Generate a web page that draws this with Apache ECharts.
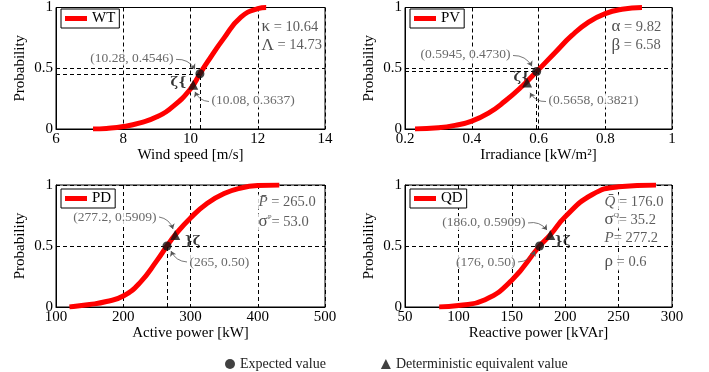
<!DOCTYPE html>
<html>
<head>
<meta charset="utf-8">
<script src="https://cdn.jsdelivr.net/npm/echarts@6/dist/echarts.min.js"></script>
<style>
  html, body { margin: 0; background: #fff; }
  #chart { width: 709px; height: 372px; }
</style>
</head>
<body>
<div id="chart"></div>
<script>
// panels: WT, PV, PD, QD
const panelNames = ['WT', 'PV', 'PD', 'QD'];
const xNames = ['Wind speed [m/s]', 'Irradiance [kW/m\u00b2]', 'Active power [kW]', 'Reactive power [kVAr]'];
const xMin = [6, 0.2, 100, 50];
const xMax = [14, 1, 500, 300];
const xStep = [2, 0.2, 100, 50];

// CDF curves
const wtX = [7.1, 7.5, 8.0, 8.5, 9.0, 9.5, 10.0, 10.28, 10.5, 11.0, 11.5, 12.0, 12.25];
const wtY = [0, 0.005, 0.02, 0.05, 0.10, 0.19, 0.33, 0.4546, 0.55, 0.75, 0.92, 0.99, 1.0];
const pvX = [0.23, 0.3, 0.35, 0.4, 0.45, 0.5, 0.55, 0.5945, 0.65, 0.7, 0.75, 0.8, 0.85, 0.91];
const pvY = [0, 0.01, 0.03, 0.065, 0.13, 0.23, 0.35, 0.473, 0.63, 0.77, 0.88, 0.95, 0.985, 1.0];
const pdX = [120, 150, 175, 200, 225, 250, 265, 277.2, 300, 325, 350, 375, 400, 432];
const pdY = [0, 0.02, 0.045, 0.09, 0.2, 0.38, 0.5, 0.5909, 0.73, 0.85, 0.93, 0.975, 0.995, 1.0];
const qdX = [82, 100, 125, 150, 176, 186, 200, 225, 250, 285];
const qdY = [0, 0.012, 0.06, 0.22, 0.5, 0.5909, 0.74, 0.92, 0.985, 1.0];

// marked points
const expectedX = [10.28, 0.5945, 265, 176];
const expectedY = [0.4546, 0.4730, 0.50, 0.50];
const determX = [10.08, 0.5658, 277.2, 186.0];
const determY = [0.3637, 0.3821, 0.5909, 0.5909];
const expectedLabels = ['(10.28, 0.4546)', '(0.5945, 0.4730)', '(265, 0.50)', '(176, 0.50)'];
const determLabels = ['(10.08, 0.3637)', '(0.5658, 0.3821)', '(277.2, 0.5909)', '(186.0, 0.5909)'];

const curves = [[wtX, wtY], [pvX, pvY], [pdX, pdY], [qdX, qdY]];
const serif = 'Liberation Serif';

const boxes = [
  { left: 56, top: 5, width: 269, height: 124 },
  { left: 405, top: 5, width: 267, height: 124 },
  { left: 56, top: 185, width: 269, height: 122 },
  { left: 405, top: 185, width: 267, height: 122 }
];

// annotation anchors (data coords of each panel)
const expLabelAt = [[9.54, 0.58, 'right'], [0.5206, 0.613, 'right'], [296.3, 0.369, 'left'], [154.9, 0.369, 'right']];
const detLabelAt = [[10.58, 0.234, 'left'], [0.6255, 0.234, 'left'], [251.7, 0.738, 'right'], [164.2, 0.689, 'right']];
const zetaAt = [[9.93, 0.379, 'right', '\u03b6{'], [0.5775, 0.419, 'right', '\u03b6{'], [288.8, 0.533, 'left', '}\u03b6'], [188.6, 0.533, 'left', '}\u03b6']];
const expArrow = [[[9.569, 0.573], [10.134, 0.492]], [[0.5236, 0.605], [0.5805, 0.516]], [[294.8, 0.369], [271.0, 0.459]], [[155.8, 0.369], [171.7, 0.459]]];
const detArrow = [[[10.55, 0.226], [10.134, 0.306]], [[0.6225, 0.226], [0.5745, 0.298]], [[253.2, 0.738], [274.0, 0.639]], [[165.2, 0.689], [183.0, 0.631]]];
const expBend = [0.3, 0.3, 0.3, -0.3];
const paramText = [
  [[12.07, 0.84, '{g|\u03ba}{n| = 10.64}'], [12.07, 0.69, '{g|\u039b}{n| = 14.73}']],
  [[0.814, 0.84, '{g|\u03b1}{n| = 9.82}'], [0.814, 0.69, '{g|\u03b2}{n| = 6.58}']],
  [[398.9, 0.861, '{i|P\u0304}{n| = 265.0}'], [398.9, 0.697, '{g|\u03c3}{s|P}{n|= 53.0}']],
  [[235.4, 0.861, '{i|Q\u0304}{n| = 176.0}'], [235.4, 0.713, '{g|\u03c3}{s|Q}{n|= 35.2}'],
   [235.4, 0.566, '{i|P}{n|= 277.2}'], [235.4, 0.369, '{g|\u03c1}{n| = 0.6}']]
];
const guideH = [true, true, false, false];

const dash = [4, 3];
const grids = [], xAxes = [], yAxes = [], series = [], legends = [];

boxes.forEach((b, i) => {
  grids.push(Object.assign({ show: true, borderColor: '#000', borderWidth: 1, backgroundColor: '#fff' }, b));
  xAxes.push({
    type: 'value', gridIndex: i, min: xMin[i], max: xMax[i], interval: xStep[i],
    name: xNames[i], nameLocation: 'middle', nameGap: i < 2 ? 17 : 18,
    nameTextStyle: { fontFamily: serif, fontSize: 15, color: '#000' },
    axisLine: { lineStyle: { color: '#000' } },
    axisTick: { inside: true, length: 3, lineStyle: { color: '#000' } },
    axisLabel: { fontFamily: serif, fontSize: 15, color: '#000', margin: 3 },
    splitLine: { show: true, lineStyle: { color: '#000', type: dash, width: 1 } }
  });
  yAxes.push({
    type: 'value', gridIndex: i, min: 0, max: 1, interval: 0.5,
    name: 'Probability', nameLocation: 'middle', nameGap: 28,
    nameTextStyle: { fontFamily: serif, fontSize: 15, color: '#000' },
    axisLine: { lineStyle: { color: '#000' } },
    axisTick: { inside: true, length: 3, lineStyle: { color: '#000' } },
    axisLabel: { fontFamily: serif, fontSize: 15, color: '#000', margin: 3 },
    splitLine: { show: true, lineStyle: { color: '#000', type: dash, width: 1 } }
  });

  const [cx, cy] = curves[i];
  const ex = expectedX[i], ey = expectedY[i];
  const guides = [[{ coord: [ex, 0] }, { coord: [ex, ey] }]];
  if (guideH[i]) guides.push([{ coord: [xMin[i], ey] }, { coord: [ex, ey] }]);

  series.push({
    name: panelNames[i], type: 'line', xAxisIndex: i, yAxisIndex: i,
    data: cx.map((x, k) => [x, cy[k]]),
    smooth: true, showSymbol: false, z: 4,
    itemStyle: { color: '#ff0000' },
    lineStyle: { color: '#ff0000', width: 5 },
    markLine: {
      silent: true, symbol: 'none', label: { show: false },
      lineStyle: { color: '#000', type: dash, width: 1 },
      data: guides
    }
  });
  series.push({
    name: 'Expected value', type: 'scatter', xAxisIndex: i, yAxisIndex: i,
    symbol: 'circle', symbolSize: 9, z: 6,
    itemStyle: { color: '#111' }, data: [[ex, ey]]
  });
  series.push({
    name: 'Deterministic equivalent value', type: 'scatter', xAxisIndex: i, yAxisIndex: i,
    symbol: 'triangle', symbolSize: 10, z: 6,
    itemStyle: { color: '#111' }, data: [[determX[i], determY[i]]]
  });

  // annotation texts, anchored left/right of a point
  const txt = (p, text, style) => ({
    value: [p[0], p[1]], text: text,
    label: Object.assign({ position: p[2] === 'right' ? 'left' : 'right', distance: 0 }, style || {})
  });
  const notes = [
    txt(expLabelAt[i], expectedLabels[i]),
    txt(detLabelAt[i], determLabels[i]),
    txt(zetaAt[i], zetaAt[i][3], { fontWeight: 'bold', fontSize: 13, color: '#000', fontFamily: 'DejaVu Serif', backgroundColor: 'transparent' })
  ];
  paramText[i].forEach(p => notes.push(txt([p[0], p[1], 'left'], p[2])));
  series.push({
    type: 'scatter', xAxisIndex: i, yAxisIndex: i, symbolSize: 1, z: 3, silent: true,
    itemStyle: { color: 'transparent' },
    label: {
      show: true, formatter: p => p.data.text,
      fontFamily: serif, fontSize: 13.5, color: '#444',
      backgroundColor: '#fff', padding: [0, 1],
      rich: {
        g: { fontFamily: serif, fontSize: 17, color: '#222' },
        n: { fontFamily: serif, fontSize: 14.5, color: '#333' },
        i: { fontFamily: serif, fontSize: 15, fontStyle: 'italic', color: '#333' },
        s: { fontFamily: serif, fontSize: 7, color: '#333', padding: [0, 0, 10, 0] }
      }
    },
    data: notes
  });
  series.push({
    type: 'lines', coordinateSystem: 'cartesian2d', xAxisIndex: i, yAxisIndex: i,
    silent: true, z: 6, symbol: ['none', 'arrow'], symbolSize: 5,
    lineStyle: { color: '#555', width: 0.8, curveness: 0.3, opacity: 1 },
    data: [
      { coords: expArrow[i], lineStyle: { curveness: expBend[i] } },
      { coords: detArrow[i] }
    ]
  });

  legends.push({
    data: [panelNames[i]], left: b.left + 5, top: b.top + 4,
    icon: 'rect', itemWidth: 22, itemHeight: 5, itemGap: 0,
    padding: [2, 4, 2, 4], borderColor: '#000', borderWidth: 1, borderRadius: 0,
    backgroundColor: '#fff', selectedMode: false,
    textStyle: { fontFamily: serif, fontSize: 15, color: '#000' }
  });
});

legends.push({
  data: [{ name: 'Expected value', icon: 'circle' }, { name: 'Deterministic equivalent value', icon: 'triangle' }],
  left: 220, top: 352, itemWidth: 10, itemHeight: 10, itemGap: 55, selectedMode: false,
  textStyle: { fontFamily: serif, fontSize: 14, color: '#222' }
});

const chart = echarts.init(document.getElementById('chart'));
chart.setOption({
  animation: false,
  backgroundColor: '#fff',
  grid: grids, xAxis: xAxes, yAxis: yAxes,
  legend: legends,
  series: series
});
</script>
</body>
</html>
